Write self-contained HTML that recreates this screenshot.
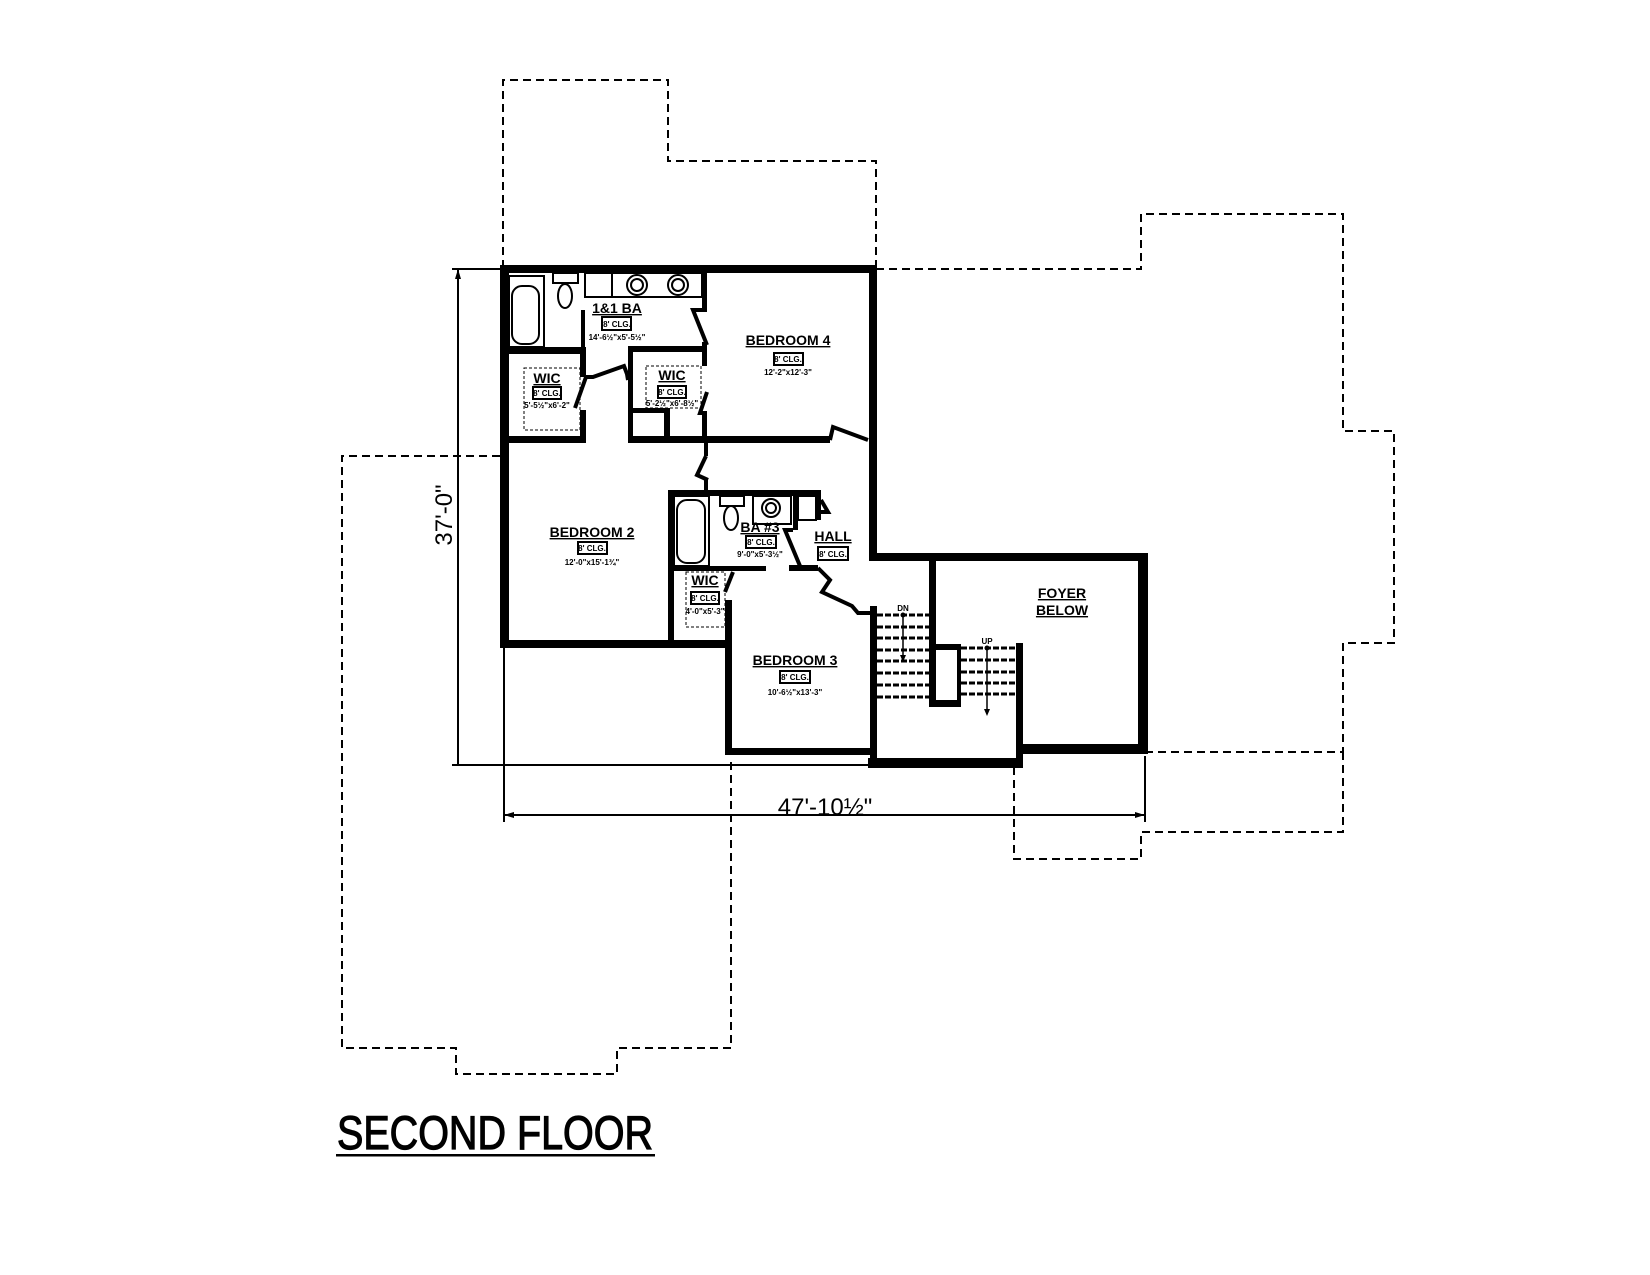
<!DOCTYPE html>
<html><head><meta charset="utf-8"><style>
html,body{margin:0;padding:0;background:#fff;}
svg{display:block;}
.lb{font-family:"Liberation Sans",sans-serif;font-weight:bold;text-anchor:middle;fill:#000;}
</style></head><body>
<svg width="1650" height="1275" viewBox="0 0 1650 1275" xmlns="http://www.w3.org/2000/svg">
<rect width="1650" height="1275" fill="#fff"/>
<g fill="none" stroke="#000" stroke-width="2" stroke-dasharray="8,5">
<polyline points="503,268 503,80 668,80 668,161 876,161 876,268"/>
<polyline points="876,269 1141,269 1141,214 1343,214 1343,431 1394,431 1394,643 1343,643 1343,752 1148,752"/>
<polyline points="1343,752 1343,832 1141,832 1141,859 1014,859 1014,764"/>
<polyline points="500,456 342,456 342,1048 456,1048 456,1074 617,1074 617,1048 731,1048 731,757"/>
</g>
<g stroke="#000" stroke-width="2" fill="none">
<line x1="458" y1="269" x2="458" y2="765"/>
<line x1="452" y1="269" x2="500" y2="269"/>
<line x1="452" y1="765" x2="870" y2="765"/>
<line x1="504" y1="648" x2="504" y2="822"/>
<line x1="1145" y1="756" x2="1145" y2="822"/>
<line x1="504" y1="815" x2="1145" y2="815"/>
</g>
<polygon points="504,815 514,812 514,818" fill="#000"/>
<polygon points="1145,815 1135,812 1135,818" fill="#000"/>
<polygon points="458,269 455,279 461,279" fill="#000"/>
<text x="452" y="515" transform="rotate(-90 452 515)" font-family="Liberation Sans,sans-serif" font-size="24" text-anchor="middle" fill="#000">37'-0"</text>
<text x="825" y="815" font-family="Liberation Sans,sans-serif" font-size="24" text-anchor="middle" fill="#000">47'-10½"</text>
<g fill="#000">
<rect x="500" y="265" width="377" height="8"/>
<rect x="500" y="265" width="9" height="383"/>
<rect x="869" y="265" width="8" height="296"/>
<rect x="869" y="553" width="279" height="8"/>
<rect x="1138" y="553" width="10" height="201"/>
<rect x="1017" y="744" width="131" height="10"/>
<rect x="868" y="758" width="155" height="10"/>
<rect x="725" y="748" width="150" height="7"/>
<rect x="725" y="640" width="7" height="115"/>
<rect x="500" y="640" width="232" height="8"/>
<rect x="870" y="606" width="7" height="160"/>
<rect x="1016" y="643" width="7" height="115"/>
<rect x="502" y="347" width="83" height="7"/>
<rect x="502" y="436" width="84" height="7"/>
<rect x="580" y="347" width="6" height="30"/>
<rect x="580" y="410" width="6" height="33"/>
<rect x="628" y="436" width="202" height="7"/>
<rect x="628" y="346" width="79" height="6"/>
<rect x="628" y="346" width="5" height="97"/>
<rect x="664" y="410" width="6" height="33"/>
<rect x="633" y="408" width="37" height="5"/>
<rect x="702" y="266" width="5" height="44"/>
<rect x="702" y="342" width="5" height="24"/>
<rect x="702" y="413" width="5" height="30"/>
<rect x="704" y="443" width="4" height="13"/>
<rect x="704" y="480" width="4" height="12"/>
<rect x="581" y="310" width="4" height="37"/>
<rect x="668" y="490" width="153" height="6"/>
<rect x="668" y="490" width="6" height="152"/>
<rect x="674" y="566" width="92" height="5"/>
<rect x="725" y="600" width="7" height="42"/>
<rect x="793" y="490" width="5" height="40"/>
<rect x="789" y="565" width="29" height="6"/>
<rect x="816" y="490" width="5" height="30"/>
<rect x="929" y="560" width="7" height="147"/>
<rect x="936" y="644" width="25" height="6"/>
<rect x="936" y="700" width="25" height="7"/>
<rect x="957" y="644" width="4" height="63"/>
</g>
<g stroke="#000" stroke-width="4" fill="none">
<polyline points="707,310 693,310 707,345"/>
<polyline points="586,377 593,377 624,366 627,374 628,380"/>
<line x1="586" y1="377" x2="575" y2="408"/>
<polyline points="707,413 700,413 707,392"/>
<polyline points="830,440 833,427 868,440"/>
<polyline points="706,456 697,475 708,480"/>
<polyline points="818,568 830,580 822,592 852,606 858,613 870,613"/>
<polyline points="793,530 785,530 800,566"/>
<polyline points="725,592 733,572"/>
<polyline points="821,500 828,512 821,512"/>
</g>
<g stroke="#000" stroke-width="2" fill="none">
<rect x="509" y="276" width="35" height="71"/>
<rect x="512" y="286" width="27" height="58" rx="10"/>
<rect x="553" y="273" width="25" height="10"/>
<ellipse cx="565" cy="296" rx="7" ry="12"/>
<rect x="585" y="273" width="117" height="24"/>
<line x1="612" y1="273" x2="612" y2="297"/>
<circle cx="637" cy="285" r="10"/><circle cx="637" cy="285" r="6"/>
<circle cx="678" cy="285" r="10"/><circle cx="678" cy="285" r="6"/>
<rect x="524" y="368" width="56" height="62" stroke-width="1" stroke-dasharray="3,2"/>
<rect x="646" y="366" width="55" height="42" stroke-width="1" stroke-dasharray="3,2"/>
<rect x="674" y="496" width="35" height="70"/>
<rect x="677" y="500" width="28" height="63" rx="10"/>
<rect x="720" y="496" width="24" height="10"/>
<ellipse cx="731" cy="518" rx="7" ry="12"/>
<rect x="753" y="496" width="38" height="28"/>
<circle cx="771" cy="508" r="9"/><circle cx="771" cy="508" r="5"/>
<rect x="798" y="496" width="18" height="24"/>
<rect x="686" y="572" width="39" height="55" stroke-width="1" stroke-dasharray="3,2"/>
</g>
<g stroke="#000" stroke-width="3" stroke-dasharray="6,2">
<line x1="877" y1="615" x2="929" y2="615"/><line x1="877" y1="627" x2="929" y2="627"/>
<line x1="877" y1="638" x2="929" y2="638"/><line x1="877" y1="650" x2="929" y2="650"/>
<line x1="877" y1="661" x2="929" y2="661"/><line x1="877" y1="673" x2="929" y2="673"/>
<line x1="877" y1="685" x2="929" y2="685"/><line x1="877" y1="697" x2="929" y2="697"/>
<line x1="961" y1="648" x2="1016" y2="648"/><line x1="961" y1="660" x2="1016" y2="660"/>
<line x1="961" y1="672" x2="1016" y2="672"/><line x1="961" y1="683" x2="1016" y2="683"/>
<line x1="961" y1="694" x2="1016" y2="694"/>
</g>
<g stroke="#000" stroke-width="1.5">
<line x1="903" y1="615" x2="903" y2="660"/>
<line x1="987" y1="648" x2="987" y2="714"/>
</g>
<polygon points="903,662 900,655 906,655" fill="#000"/>
<polygon points="987,716 984,709 990,709" fill="#000"/>
<circle cx="903" cy="615" r="2.5"/><circle cx="987" cy="648" r="2.5"/>
<text x="903" y="611" class="lb" font-size="8">DN</text>
<text x="987" y="644" class="lb" font-size="8">UP</text>
<g class="lb">
<text x="617" y="313" font-size="14" text-decoration="underline">1&amp;1 BA</text>
<rect x="602" y="317" width="29" height="13" fill="none" stroke="#000" stroke-width="2"/>
<text x="617" y="327" font-size="8">8' CLG.</text>
<text x="617" y="340" font-size="8">14'-6½"x5'-5½"</text>
<text x="547" y="383" font-size="14" text-decoration="underline">WIC</text>
<rect x="533" y="387" width="28" height="12" fill="none" stroke="#000" stroke-width="2"/>
<text x="547" y="396" font-size="8">8' CLG.</text>
<text x="547" y="408" font-size="8">5'-5½"x6'-2"</text>
<text x="672" y="380" font-size="14" text-decoration="underline">WIC</text>
<rect x="658" y="386" width="28" height="12" fill="none" stroke="#000" stroke-width="2"/>
<text x="672" y="395" font-size="8">8' CLG.</text>
<text x="672" y="406" font-size="8">5'-2½"x6'-8½"</text>
<text x="788" y="345" font-size="14" text-decoration="underline">BEDROOM 4</text>
<rect x="774" y="353" width="29" height="12" fill="none" stroke="#000" stroke-width="2"/>
<text x="788" y="362" font-size="8">8' CLG.</text>
<text x="788" y="375" font-size="8">12'-2"x12'-3"</text>
<text x="592" y="537" font-size="14" text-decoration="underline">BEDROOM 2</text>
<rect x="578" y="542" width="29" height="12" fill="none" stroke="#000" stroke-width="2"/>
<text x="592" y="551" font-size="8">8' CLG.</text>
<text x="592" y="565" font-size="8">12'-0"x15'-1¾"</text>
<text x="760" y="532" font-size="14" text-decoration="underline">BA #3</text>
<rect x="746" y="536" width="30" height="12" fill="none" stroke="#000" stroke-width="2"/>
<text x="761" y="545" font-size="8">8' CLG.</text>
<text x="760" y="557" font-size="8">9'-0"x5'-3½"</text>
<text x="833" y="541" font-size="14" text-decoration="underline">HALL</text>
<rect x="818" y="547" width="30" height="13" fill="none" stroke="#000" stroke-width="2"/>
<text x="833" y="557" font-size="8">8' CLG.</text>
<text x="705" y="585" font-size="14" text-decoration="underline">WIC</text>
<rect x="691" y="592" width="28" height="12" fill="none" stroke="#000" stroke-width="2"/>
<text x="705" y="601" font-size="8">8' CLG.</text>
<text x="705" y="614" font-size="8">4'-0"x5'-3"</text>
<text x="795" y="665" font-size="14" text-decoration="underline">BEDROOM 3</text>
<rect x="780" y="671" width="30" height="12" fill="none" stroke="#000" stroke-width="2"/>
<text x="795" y="680" font-size="8">8' CLG.</text>
<text x="795" y="695" font-size="8">10'-6½"x13'-3"</text>
<text x="1062" y="598" font-size="14" text-decoration="underline">FOYER</text>
<text x="1062" y="615" font-size="14" text-decoration="underline">BELOW</text>
</g>
<text x="337" y="1149" font-family="Liberation Sans,sans-serif" font-size="47" fill="#000" stroke="#000" stroke-width="1.2" textLength="316" lengthAdjust="spacingAndGlyphs">SECOND FLOOR</text>
<rect x="336" y="1154" width="319" height="2.5" fill="#000"/>
</svg>
</body></html>
